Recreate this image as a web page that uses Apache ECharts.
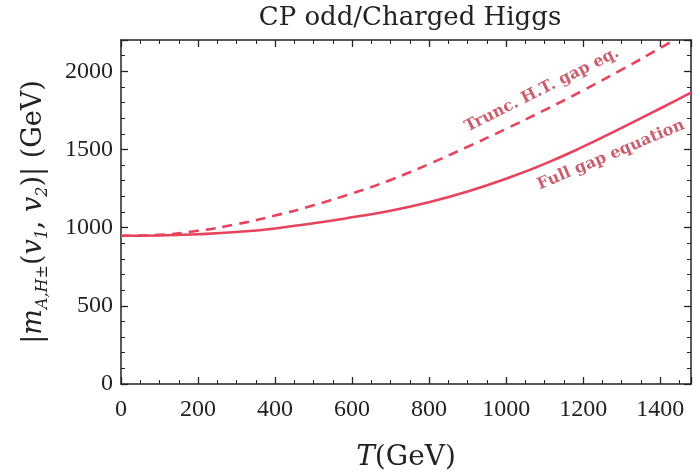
<!DOCTYPE html>
<html>
<head>
<meta charset="utf-8">
<script src="https://cdn.jsdelivr.net/npm/echarts@6/dist/echarts.min.js"></script>
<style>html,body{margin:0;padding:0;background:#fff}#c{width:693px;height:475px}</style>
</head>
<body>
<div id="c"></div>
<script>
// Data
const tFull   = [0, 100, 200, 300, 400, 500, 600, 700, 800, 900, 1000, 1100, 1200, 1300, 1400, 1480];
const mFull   = [948, 950, 958, 972, 995, 1028, 1066, 1108, 1163, 1231, 1313, 1408, 1518, 1638, 1762, 1864];
const tTrunc  = [0, 100, 200, 300, 400, 500, 600, 700, 800, 900, 1000, 1100, 1200, 1300, 1400, 1440];
const mTrunc  = [948, 954, 980, 1022, 1077, 1143, 1219, 1305, 1407, 1517, 1632, 1752, 1878, 2010, 2148, 2205];
const xTicks  = [0, 200, 400, 600, 800, 1000, 1200, 1400];
const yTicks  = [0, 500, 1000, 1500, 2000];
const labelTrunc = 'Trunc. H.T. gap eq.';
const labelFull  = 'Full gap equation';

const SERIF = '"Liberation Serif", "DejaVu Serif", serif';
const WIDE  = '"DejaVu Serif", serif';
const LINE = '#e8435c';
const NOTE = '#c9606f';
const AX = '#222';

const chart = echarts.init(document.getElementById('c'), null, {renderer: 'canvas'});

function axisBase(extra) {
  return Object.assign({
    axisLine: {show: true, onZero: false, lineStyle: {color: AX, width: 1.5}},
    axisTick: {show: true, inside: true, length: 7, lineStyle: {color: AX, width: 1.3}},
    splitLine: {show: false},
    minorSplitLine: {show: false}
  }, extra);
}

const tickFmtX = v => xTicks.includes(v) ? String(v) : '';
const tickFmtY = v => yTicks.includes(v) ? String(v) : '';

chart.setOption({
  animation: false,
  backgroundColor: '#fff',
  title: {
    text: 'CP odd/Charged Higgs',
    left: 405, top: 0, textAlign: 'center',
    textStyle: {fontFamily: WIDE, fontSize: 26, fontWeight: 'normal', color: AX}
  },
  grid: {left: 121, right: 2, top: 40, bottom: 91, containLabel: false, outerBoundsMode: 'none'},
  xAxis: [
    axisBase({
      type: 'value', min: 0, max: 1480, interval: 200, position: 'bottom',
      minorTick: {show: true, splitNumber: 4, length: 4, lineStyle: {color: AX, width: 1}},
      axisLabel: {formatter: tickFmtX, showMaxLabel: false, fontFamily: SERIF, fontSize: 24, color: AX, margin: 14},
      name: '{i|T}{n|(GeV)}', nameLocation: 'middle', nameGap: 60,
      nameTextStyle: {rich: {
        i: {fontFamily: WIDE, fontStyle: 'italic', fontSize: 28, color: AX},
        n: {fontFamily: WIDE, fontSize: 28, color: AX}
      }}
    }),
    axisBase({
      type: 'value', min: 0, max: 1480, interval: 200, position: 'top',
      minorTick: {show: true, splitNumber: 4, length: 4, lineStyle: {color: AX, width: 1}},
      axisLabel: {show: false}
    })
  ],
  yAxis: [
    axisBase({
      type: 'value', min: 0, max: 2200, interval: 500, position: 'left',
      minorTick: {show: true, splitNumber: 5, length: 4, lineStyle: {color: AX, width: 1}},
      axisLabel: {formatter: tickFmtY, showMaxLabel: false, fontFamily: SERIF, fontSize: 24, color: AX, margin: 8},
      name: '{b||}{i|m}{s|A,H±}{b|(}{i|v}{s|1}{b|, }{i|v}{s|2}{b|)| (GeV)}',
      nameLocation: 'middle', nameRotate: 90, nameGap: 70,
      nameTextStyle: {rich: {
        b: {fontFamily: WIDE, fontSize: 27, color: AX, lineHeight: 34},
        i: {fontFamily: WIDE, fontStyle: 'italic', fontSize: 27, color: AX, lineHeight: 34},
        s: {fontFamily: WIDE, fontStyle: 'italic', fontSize: 16, color: AX, lineHeight: 18, verticalAlign: 'bottom'}
      }}
    }),
    axisBase({
      type: 'value', min: 0, max: 2200, interval: 500, position: 'right',
      minorTick: {show: true, splitNumber: 5, length: 4, lineStyle: {color: AX, width: 1}},
      axisLabel: {show: false}
    })
  ],
  series: [
    {
      name: labelFull, type: 'line', smooth: true, symbol: 'none', clip: true,
      xAxisIndex: 0, yAxisIndex: 0,
      data: tFull.map((t, i) => [t, mFull[i]]),
      lineStyle: {color: LINE, width: 2.6}
    },
    {
      name: labelTrunc, type: 'line', smooth: true, symbol: 'none', clip: true,
      xAxisIndex: 0, yAxisIndex: 0,
      data: tTrunc.map((t, i) => [t, mTrunc[i]]),
      lineStyle: {color: LINE, width: 2.6, type: [10, 7]}
    }
  ],
  graphic: [
    {
      type: 'text', x: 542, y: 90, rotation: 26.6 * Math.PI / 180,
      style: {text: labelTrunc, fill: NOTE, font: 'bold 16px ' + WIDE, align: 'center', verticalAlign: 'middle'}
    },
    {
      type: 'text', x: 611, y: 155, rotation: 22.8 * Math.PI / 180,
      style: {text: labelFull, fill: NOTE, font: 'bold 16px ' + WIDE, align: 'center', verticalAlign: 'middle'}
    }
  ]
});
</script>
</body>
</html>
